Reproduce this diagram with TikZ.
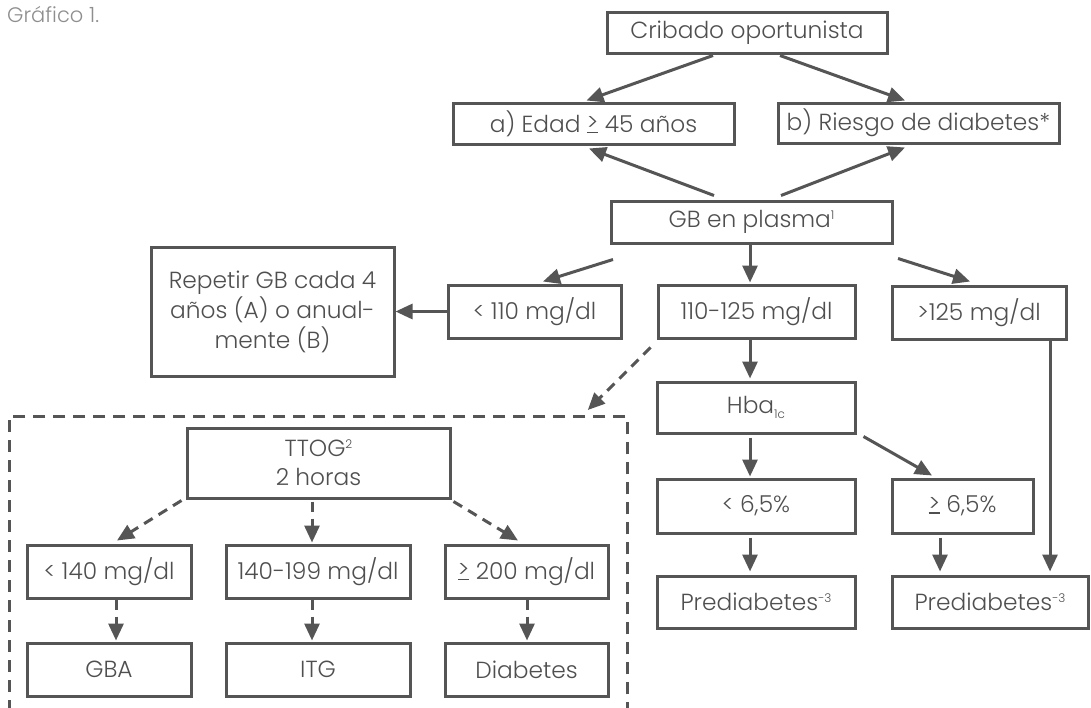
\documentclass[tikz,border=0pt]{standalone}
\usepackage{fontspec}
\setmainfont{Poppins}[UprightFont=* Light]
\usetikzlibrary{arrows.meta,calc}
\definecolor{ln}{HTML}{555555}
\definecolor{tx}{HTML}{4F4F4F}
\definecolor{cap}{HTML}{8E8E8E}
\newcommand{\gequ}{\sbox0{>}\rlap{\rule[-1pt]{\wd0}{1.4pt}}\raisebox{1.5pt}{\usebox0}}
\newcommand{\sups}[1]{\raisebox{8pt}{\fontsize{12}{12}\selectfont #1}}
\newcommand{\subs}[1]{\raisebox{-5pt}{\fontsize{12}{12}\selectfont #1}}
\tikzset{
  bx/.style={draw=ln, line width=3pt, text=tx, inner sep=0pt, align=center,
    font=\fontsize{23.3}{30}\selectfont},
  arr/.style={draw=ln, line width=3pt, -{Triangle[length=17pt,width=15pt]}},
  darr/.style={arr, dash pattern=on 10pt off 7pt},
  grpbox/.style={draw=ln, line width=2.8pt, dash pattern=on 12pt off 8pt},
}
\begin{document}
\begin{tikzpicture}[x=1pt,y=-1pt]
\useasboundingbox (0,0) rectangle (1091,707);
\clip (0,0) rectangle (1091,707);
\node[anchor=west, text=cap, font=\fontsize{21}{21}\selectfont, inner sep=0pt] (title) at (7,14) {Gráfico 1.};
% top
\node[bx, minimum width=280, minimum height=41] (crib) at (747,32.5) {Cribado oportunista};
\node[bx, minimum width=281, minimum height=41] (edad) at (593.5,123.5) {a) Edad \gequ\ 45 años};
\node[bx, minimum width=281, minimum height=40] (ries) at (918.5,123) {b) Riesgo de diabetes*};
\node[bx, minimum width=281, minimum height=42] (gb) at (751.5,222) {GB en plasma\sups{1}};
% level 2
\node[bx, minimum width=243, minimum height=129] (rep) at (272.5,311.5) {Repetir GB cada 4\\años (A) o anual-\\mente (B)};
\node[bx, minimum width=173, minimum height=53] (l110) at (534.5,311.5) {< 110 mg/dl};
\node[bx, minimum width=197, minimum height=53] (m110) at (756.5,311.5) {110-125 mg/dl};
\node[bx, minimum width=174, minimum height=53] (g125) at (979,312.5) {>125 mg/dl};
% right branch
\node[bx, minimum width=198, minimum height=51] (hba) at (756,407.5) {Hba\subs{1c}};
\node[bx, minimum width=198, minimum height=54] (lt65) at (756,506) {< 6,5\%};
\node[bx, minimum width=141, minimum height=54] (ge65) at (962.5,506) {\gequ\ 6,5\%};
\node[bx, minimum width=198, minimum height=52] (pre1) at (756,602) {Prediabetes\sups{-3}};
\node[bx, minimum width=196, minimum height=52] (pre2) at (990,602) {Prediabetes\sups{-3}};
% dashed group
\node[grpbox, minimum width=618, minimum height=320, anchor=north west, inner sep=0pt] (grp) at (8,415) {};
\node[bx, minimum width=263, minimum height=70, font=\fontsize{23.3}{29}\selectfont] (ttog) at (318.5,463) {TTOG\sups{2}\\2 horas};
\node[bx, minimum width=164, minimum height=53] (l140) at (109,571.5) {< 140 mg/dl};
\node[bx, minimum width=184, minimum height=53] (m140) at (318,571.5) {140-199 mg/dl};
\node[bx, minimum width=163, minimum height=53] (g200) at (526.5,571.5) {\gequ\ 200 mg/dl};
\node[bx, minimum width=164, minimum height=53] (gba) at (109,669.5) {GBA};
\node[bx, minimum width=184, minimum height=53] (itg) at (318,669.5) {ITG};
\node[bx, minimum width=163, minimum height=53] (diab) at (526.5,669.5) {Diabetes};
% arrows
\draw[arr] ($(crib.south)+(-34,1)$) -- ($(edad.north)+(-7,-1)$);
\draw[arr] ($(crib.south)+(33,1)$) -- ($(ries.north)+(-13.5,-1)$);
\draw[arr] ($(gb.north)+(-37.5,-4)$) -- ($(edad.south)+(-4.5,3)$);
\draw[arr] ($(gb.north)+(29.5,-4)$) -- ($(ries.south)+(-13.5,3)$);
\draw[arr] ($(gb.south)+(-138.5,15)$) -- ($(l110.north)+(8.5,-2)$);
\draw[arr] ($(gb.south)+(-1.5,0)$) -- ($(m110.north)+(-6.5,-1)$);
\draw[arr] ($(gb.south)+(146.5,14)$) -- ($(g125.north)+(-9,-3)$);
\draw[arr] (l110.west) -- (rep.east |- l110.west);
\draw[arr] ($(m110.south)+(-6.5,0)$) -- ($(hba.north)+(-6,-2)$);
\draw[darr] ($(m110.south west)+(-6,8)$) -- ($(grp.north east)+(-41,-5)$);
\draw[arr] ($(g125.south)+(71,0)$) -- ($(pre2.north)+(60,-3)$);
\draw[arr] ($(hba.south)+(-6,3)$) -- ($(lt65.north)+(-6,-1)$);
\draw[arr] ($(hba.south east)+(7,2)$) -- ($(ge65.north)+(-30.5,-2)$);
\draw[arr] ($(lt65.south)+(-6,3)$) -- ($(pre1.north)+(-6,-3)$);
\draw[arr] ($(ge65.south)+(-22.5,3)$) -- ($(pre2.north)+(-50,-3)$);
\draw[darr] ($(ttog.south west)+(-4,1)$) -- ($(l140.north)+(8,-3)$);
\draw[darr] ($(ttog.south)+(-6.5,2)$) -- ($(m140.north)+(-6,-1)$);
\draw[darr] ($(ttog.south east)+(2,2)$) -- ($(g200.north)+(-8.5,-3)$);
\draw[darr] ($(l140.south)+(7,0)$) -- ($(gba.north)+(7,-1)$);
\draw[darr] ($(m140.south)+(-6,0)$) -- ($(itg.north)+(-6,-1)$);
\draw[darr] ($(g200.south)+(0.5,0)$) -- ($(diab.north)+(0.5,-1)$);
\end{tikzpicture}
\end{document}
